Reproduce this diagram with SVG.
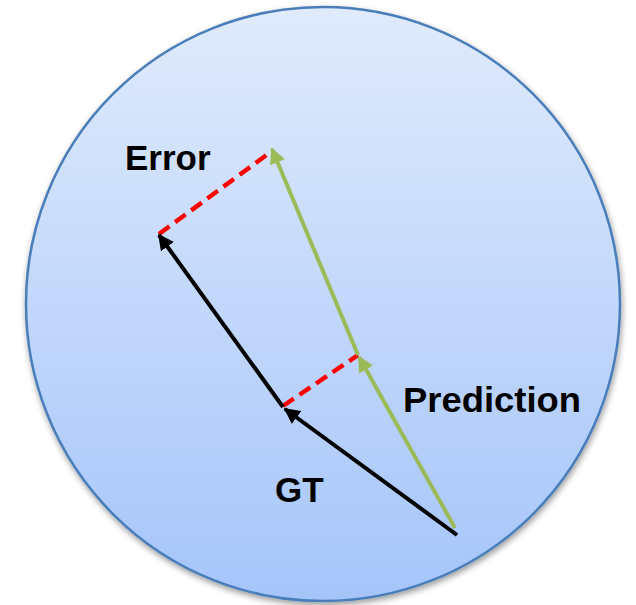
<svg xmlns="http://www.w3.org/2000/svg" width="636" height="605" viewBox="0 0 636 605">
<defs>
<linearGradient id="bg" x1="0" y1="0" x2="0" y2="1">
<stop offset="0" stop-color="#e0ebfc"/>
<stop offset="1" stop-color="#a5c5fa"/>
</linearGradient>
<filter id="sh" x="-10%" y="-10%" width="120%" height="120%">
<feGaussianBlur in="SourceAlpha" stdDeviation="3"/>
<feOffset dx="1" dy="3"/>
<feComponentTransfer><feFuncA type="linear" slope="0.4"/></feComponentTransfer>
<feMerge><feMergeNode/><feMergeNode in="SourceGraphic"/></feMerge>
</filter>
<marker id="ab" viewBox="0 0 10 10" refX="9" refY="5" markerWidth="4" markerHeight="4" markerUnits="strokeWidth" orient="auto">
<path d="M0,0 L10,5 L0,10 z" fill="#000"/>
</marker>
<marker id="ag" viewBox="0 0 10 10" refX="9" refY="5" markerWidth="4" markerHeight="4" markerUnits="strokeWidth" orient="auto">
<path d="M0,0 L10,5 L0,10 z" fill="#9bbb59"/>
</marker>
</defs>
<style>
.lbl{font-family:"Liberation Sans",Arial,sans-serif;font-weight:bold;font-size:35px;fill:#000}
.blk{stroke:#000;stroke-width:4;fill:none}
.grn{stroke:#9bbb59;stroke-width:4;fill:none}
.red{stroke:#ff0000;stroke-width:4.5;fill:none;stroke-dasharray:13 7}
</style>
<g id="circle">
<ellipse cx="323" cy="304" rx="297" ry="297" fill="url(#bg)" stroke="#4a7ebb" stroke-width="2.5" filter="url(#sh)"/>
</g>
<g id="connectors">
<line class="red" x1="159" y1="234" x2="272" y2="151"/>
<line class="red" x1="283" y1="406" x2="358" y2="355"/>
<line class="blk" x1="457" y1="535" x2="285" y2="409" marker-end="url(#ab)"/>
<line class="blk" x1="283" y1="407" x2="159" y2="235" marker-end="url(#ab)"/>
<line class="grn" x1="455" y1="528" x2="359" y2="357" marker-end="url(#ag)"/>
<line class="grn" x1="358" y1="355" x2="272" y2="149" marker-end="url(#ag)"/>
</g>
<g id="error"><text class="lbl" x="125" y="170">Error</text></g>
<g id="prediction"><text class="lbl" x="403" y="412" textLength="178" lengthAdjust="spacingAndGlyphs">Prediction</text></g>
<g id="gt"><text class="lbl" x="275" y="502">GT</text></g>
</svg>
